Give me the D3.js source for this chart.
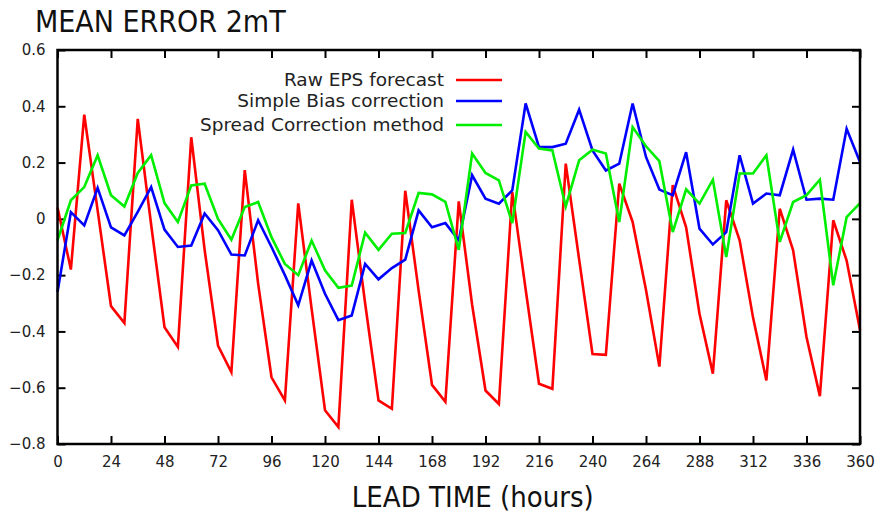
<!DOCTYPE html>
<html>
<head>
<meta charset="utf-8">
<script src="https://cdn.jsdelivr.net/npm/d3@7"></script>
<style>
  html, body { margin: 0; padding: 0; background: #fff; }
  svg { display: block; }
</style>
</head>
<body>
<svg id="chart" width="892" height="516"></svg>
<script>
// ---- data ----
const leadHours = d3.range(0, 361, 6);
const xTickValues = [0, 24, 48, 72, 96, 120, 144, 168, 192, 216, 240, 264, 288, 312, 336, 360];
const yTickValues = [0.6, 0.4, 0.2, 0, -0.2, -0.4, -0.6, -0.8];
const seriesNames = ["Raw EPS forecast", "Simple Bias correction", "Spread Correction method"];
const seriesColors = ["#ff0000", "#0000ff", "#00ee00"];

const rawEps = [0.04, -0.18, 0.37, 0.03, -0.31, -0.37, 0.355, -0.02, -0.385, -0.455,
  0.29, -0.11, -0.45, -0.545, 0.173, -0.23, -0.563, -0.645, 0.055, -0.32,
  -0.68, -0.74, 0.068, -0.30, -0.645, -0.675, 0.10, -0.255, -0.59, -0.65,
  0.062, -0.305, -0.61, -0.658, 0.095, -0.25, -0.586, -0.604, 0.196, -0.144,
  -0.48, -0.483, 0.125, -0.011, -0.253, -0.525, 0.12, -0.03, -0.337, -0.55,
  0.066, -0.076, -0.35, -0.574, 0.036, -0.112, -0.42, -0.63, -0.005, -0.148,
  -0.395];
const simpleBias = [-0.26, 0.024, -0.023, 0.11, -0.03, -0.059, 0.025, 0.113, -0.038, -0.10,
  -0.095, 0.019, -0.04, -0.127, -0.13, -0.005, -0.10, -0.20, -0.307, -0.148,
  -0.266, -0.36, -0.343, -0.16, -0.215, -0.175, -0.145, 0.03, -0.03, -0.015,
  -0.076, 0.155, 0.072, 0.054, 0.101, 0.41, 0.255, 0.255, 0.267, 0.388,
  0.243, 0.172, 0.196, 0.41, 0.22, 0.104, 0.084, 0.237, -0.035, -0.091,
  -0.047, 0.226, 0.054, 0.09, 0.084, 0.246, 0.068, 0.072, 0.068, 0.32,
  0.202];
const spreadCorr = [-0.076, 0.066, 0.113, 0.226, 0.084, 0.044, 0.163, 0.226, 0.056, -0.011,
  0.119, 0.125, 0.0, -0.074, 0.042, 0.06, -0.065, -0.16, -0.2, -0.077,
  -0.183, -0.245, -0.237, -0.049, -0.11, -0.053, -0.05, 0.092, 0.087, 0.06,
  -0.11, 0.232, 0.163, 0.137, -0.015, 0.309, 0.25, 0.243, 0.044, 0.208,
  0.246, 0.232, -0.011, 0.326, 0.258, 0.205, -0.047, 0.105, 0.054, 0.139,
  -0.136, 0.161, 0.161, 0.226, -0.082, 0.06, 0.084, 0.139, -0.236, 0.006,
  0.056];
const seriesValues = [rawEps, simpleBias, spreadCorr];

// ---- layout ----
const svg = d3.select("#chart");
const W = 892, H = 516;
const margin = { left: 57.5, right: 32, top: 50, bottom: 72 };
const iw = W - margin.left - margin.right;
const ih = H - margin.top - margin.bottom;

const x = d3.scaleLinear().domain([0, 360]).range([0, iw]);
const y = d3.scaleLinear().domain([-0.8, 0.6]).range([ih, 0]);

const g = svg.append("g").attr("transform", `translate(${margin.left},${margin.top})`);

const tickFont = "DejaVu Sans, sans-serif";
const fmtY = d => (d === 0 ? "0" : d3.format(".1f")(d));

function styleAxis(sel) {
  sel.select(".domain").remove();
  sel.selectAll(".tick line").attr("stroke", "#000").attr("stroke-width", 2);
  sel.selectAll(".tick text").attr("fill", "#222").style("font-family", tickFont).style("font-size", "15px");
}

g.append("g").attr("transform", `translate(0,${ih})`)
  .call(d3.axisBottom(x).tickValues(xTickValues).tickSize(-8).tickPadding(12))
  .call(styleAxis);
g.append("g")
  .call(d3.axisTop(x).tickValues(xTickValues).tickSize(-8).tickFormat(""))
  .call(styleAxis);
g.append("g")
  .call(d3.axisLeft(y).tickValues(yTickValues).tickSize(-8).tickPadding(12).tickFormat(fmtY))
  .call(styleAxis);
g.append("g").attr("transform", `translate(${iw},0)`)
  .call(d3.axisRight(y).tickValues(yTickValues).tickSize(-8).tickFormat(""))
  .call(styleAxis);

// lines
const line = d3.line().x((d, i) => x(leadHours[i])).y(d => y(d));
seriesValues.forEach((vals, k) => {
  g.append("path")
    .datum(vals)
    .attr("fill", "none")
    .attr("stroke", seriesColors[k])
    .attr("stroke-width", 2.6)
    .attr("stroke-linejoin", "miter")
    .attr("d", line);
});

// frame
g.append("rect").attr("x", 0).attr("y", 0).attr("width", iw).attr("height", ih)
  .attr("fill", "none").attr("stroke", "#000").attr("stroke-width", 2.5);

// legend
const legendRows = [80, 101, 125];
seriesNames.forEach((name, k) => {
  svg.append("text")
    .attr("x", 444).attr("y", legendRows[k]).attr("dy", "0.35em")
    .attr("text-anchor", "end")
    .attr("fill", "#222")
    .style("font-family", tickFont).style("font-size", "18.5px")
    .text(name);
  svg.append("line")
    .attr("x1", 456).attr("x2", 502)
    .attr("y1", legendRows[k]).attr("y2", legendRows[k])
    .attr("stroke", seriesColors[k]).attr("stroke-width", 2.6);
});

// title & axis title
const narrow = "'Liberation Sans Narrow', 'DejaVu Sans Condensed', 'Open Sans', sans-serif";
svg.append("text")
  .attr("x", 35).attr("y", 32)
  .attr("fill", "#111")
  .style("font-family", narrow).style("font-size", "30px")
  .text("MEAN ERROR 2mT");
svg.append("text")
  .attr("x", margin.left + iw / 2 + 14).attr("y", 507)
  .attr("text-anchor", "middle")
  .attr("fill", "#111")
  .style("font-family", narrow).style("font-size", "29px")
  .text("LEAD TIME (hours)");
</script>
</body>
</html>
